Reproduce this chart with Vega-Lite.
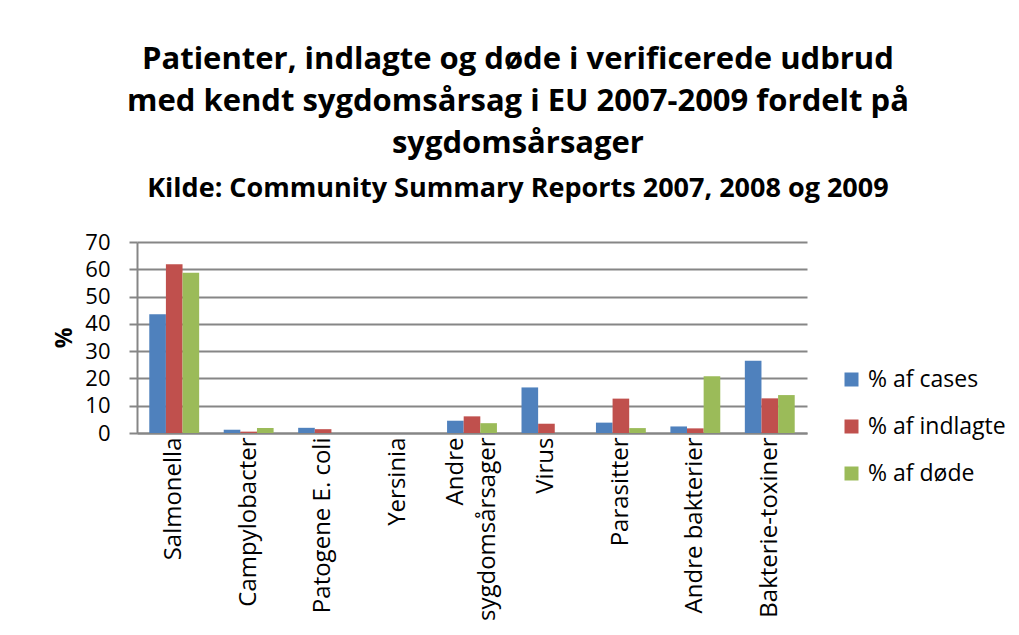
{
  "$schema": "https://vega.github.io/schema/vega-lite/v6.json",
  "width": 670,
  "height": 191,
  "padding": {"left": 53, "top": 44, "right": 5, "bottom": 5},
  "background": "white",
  "title": {
    "text": ["Patienter, indlagte og døde i verificerede udbrud", "med kendt sygdomsårsag i EU 2007-2009 fordelt på", "sygdomsårsager"],
    "subtitle": "Kilde: Community Summary Reports 2007, 2008 og 2009",
    "anchor": "middle",
    "frame": "bounds",
    "dx": -12,
    "font": "Open Sans",
    "fontSize": 31,
    "fontWeight": "bold",
    "lineHeight": 42,
    "color": "black",
    "subtitleFont": "Open Sans",
    "subtitleFontSize": 27,
    "subtitleFontWeight": "bold",
    "subtitleColor": "black",
    "subtitlePadding": 16,
    "offset": 28
  },
  "data": {
    "values": [
      {"cat": "Salmonella", "serie": "% af cases", "v": 43.5},
      {"cat": "Salmonella", "serie": "% af indlagte", "v": 61.8},
      {"cat": "Salmonella", "serie": "% af døde", "v": 58.7},
      {"cat": "Campylobacter", "serie": "% af cases", "v": 1.2},
      {"cat": "Campylobacter", "serie": "% af indlagte", "v": 0.5},
      {"cat": "Campylobacter", "serie": "% af døde", "v": 1.8},
      {"cat": "Patogene E. coli", "serie": "% af cases", "v": 1.9},
      {"cat": "Patogene E. coli", "serie": "% af indlagte", "v": 1.4},
      {"cat": "Patogene E. coli", "serie": "% af døde", "v": 0},
      {"cat": "Yersinia", "serie": "% af cases", "v": 0},
      {"cat": "Yersinia", "serie": "% af indlagte", "v": 0},
      {"cat": "Yersinia", "serie": "% af døde", "v": 0},
      {"cat": "Andre sygdomsårsager", "serie": "% af cases", "v": 4.5},
      {"cat": "Andre sygdomsårsager", "serie": "% af indlagte", "v": 6.1},
      {"cat": "Andre sygdomsårsager", "serie": "% af døde", "v": 3.6},
      {"cat": "Virus", "serie": "% af cases", "v": 16.7},
      {"cat": "Virus", "serie": "% af indlagte", "v": 3.4},
      {"cat": "Virus", "serie": "% af døde", "v": 0},
      {"cat": "Parasitter", "serie": "% af cases", "v": 3.8},
      {"cat": "Parasitter", "serie": "% af indlagte", "v": 12.6},
      {"cat": "Parasitter", "serie": "% af døde", "v": 1.8},
      {"cat": "Andre bakterier", "serie": "% af cases", "v": 2.4},
      {"cat": "Andre bakterier", "serie": "% af indlagte", "v": 1.7},
      {"cat": "Andre bakterier", "serie": "% af døde", "v": 20.8},
      {"cat": "Bakterie-toxiner", "serie": "% af cases", "v": 26.5},
      {"cat": "Bakterie-toxiner", "serie": "% af indlagte", "v": 12.7},
      {"cat": "Bakterie-toxiner", "serie": "% af døde", "v": 13.9}
    ]
  },
  "mark": {"type": "bar"},
  "encoding": {
    "x": {
      "field": "cat",
      "type": "nominal",
      "sort": null,
      "title": null,
      "scale": {"paddingInner": 0.33, "paddingOuter": 0.165},
      "axis": {
        "labelAngle": -90,
        "labelFont": "Open Sans",
        "labelFontSize": 24,
        "labelColor": "black",
        "labelPadding": 4,
        "labelLimit": 300,
        "labelLineHeight": 32,
        "labelOverlap": false,
        "labelOffset": {"condition": {"test": "datum.label == 'Andre sygdomsårsager'", "value": -16}, "value": 0},
        "labelExpr": "datum.label == 'Andre sygdomsårsager' ? ['Andre', 'sygdomsårsager'] : datum.label",
        "ticks": false,
        "domainColor": "#868686",
        "domainWidth": 2,
        "grid": false
      }
    },
    "xOffset": {"field": "serie", "type": "nominal", "sort": ["% af cases", "% af indlagte", "% af døde"], "scale": {"paddingInner": 0, "paddingOuter": 0}},
    "y": {
      "field": "v",
      "type": "quantitative",
      "title": "%",
      "scale": {"domain": [0, 70]},
      "axis": {
        "values": [0, 10, 20, 30, 40, 50, 60, 70],
        "labelFont": "Open Sans",
        "labelFontSize": 22,
        "labelColor": "black",
        "labelPadding": 19,
        "tickColor": "#868686",
        "tickSize": 8,
        "tickWidth": 2,
        "domainColor": "#868686",
        "domainWidth": 2,
        "gridColor": "#868686",
        "gridWidth": 2,
        "titleFont": "Open Sans",
        "titleFontSize": 23,
        "titleFontWeight": "bold",
        "titleColor": "black",
        "titlePadding": 8
      }
    },
    "color": {
      "field": "serie",
      "type": "nominal",
      "sort": ["% af cases", "% af indlagte", "% af døde"],
      "scale": {"domain": ["% af cases", "% af indlagte", "% af døde"], "range": ["#4F81BD", "#C0504D", "#9BBB59"]},
      "legend": {
        "title": null,
        "labelFont": "Open Sans",
        "labelFontSize": 23,
        "labelColor": "black",
        "labelOffset": 5,
        "symbolType": "square",
        "symbolSize": 196,
        "symbolStrokeWidth": 0,
        "rowPadding": 23,
        "orient": "none",
        "legendX": 703,
        "legendY": 126,
        "padding": 0
      }
    }
  },
  "config": {
    "view": {"stroke": null}
  }
}
